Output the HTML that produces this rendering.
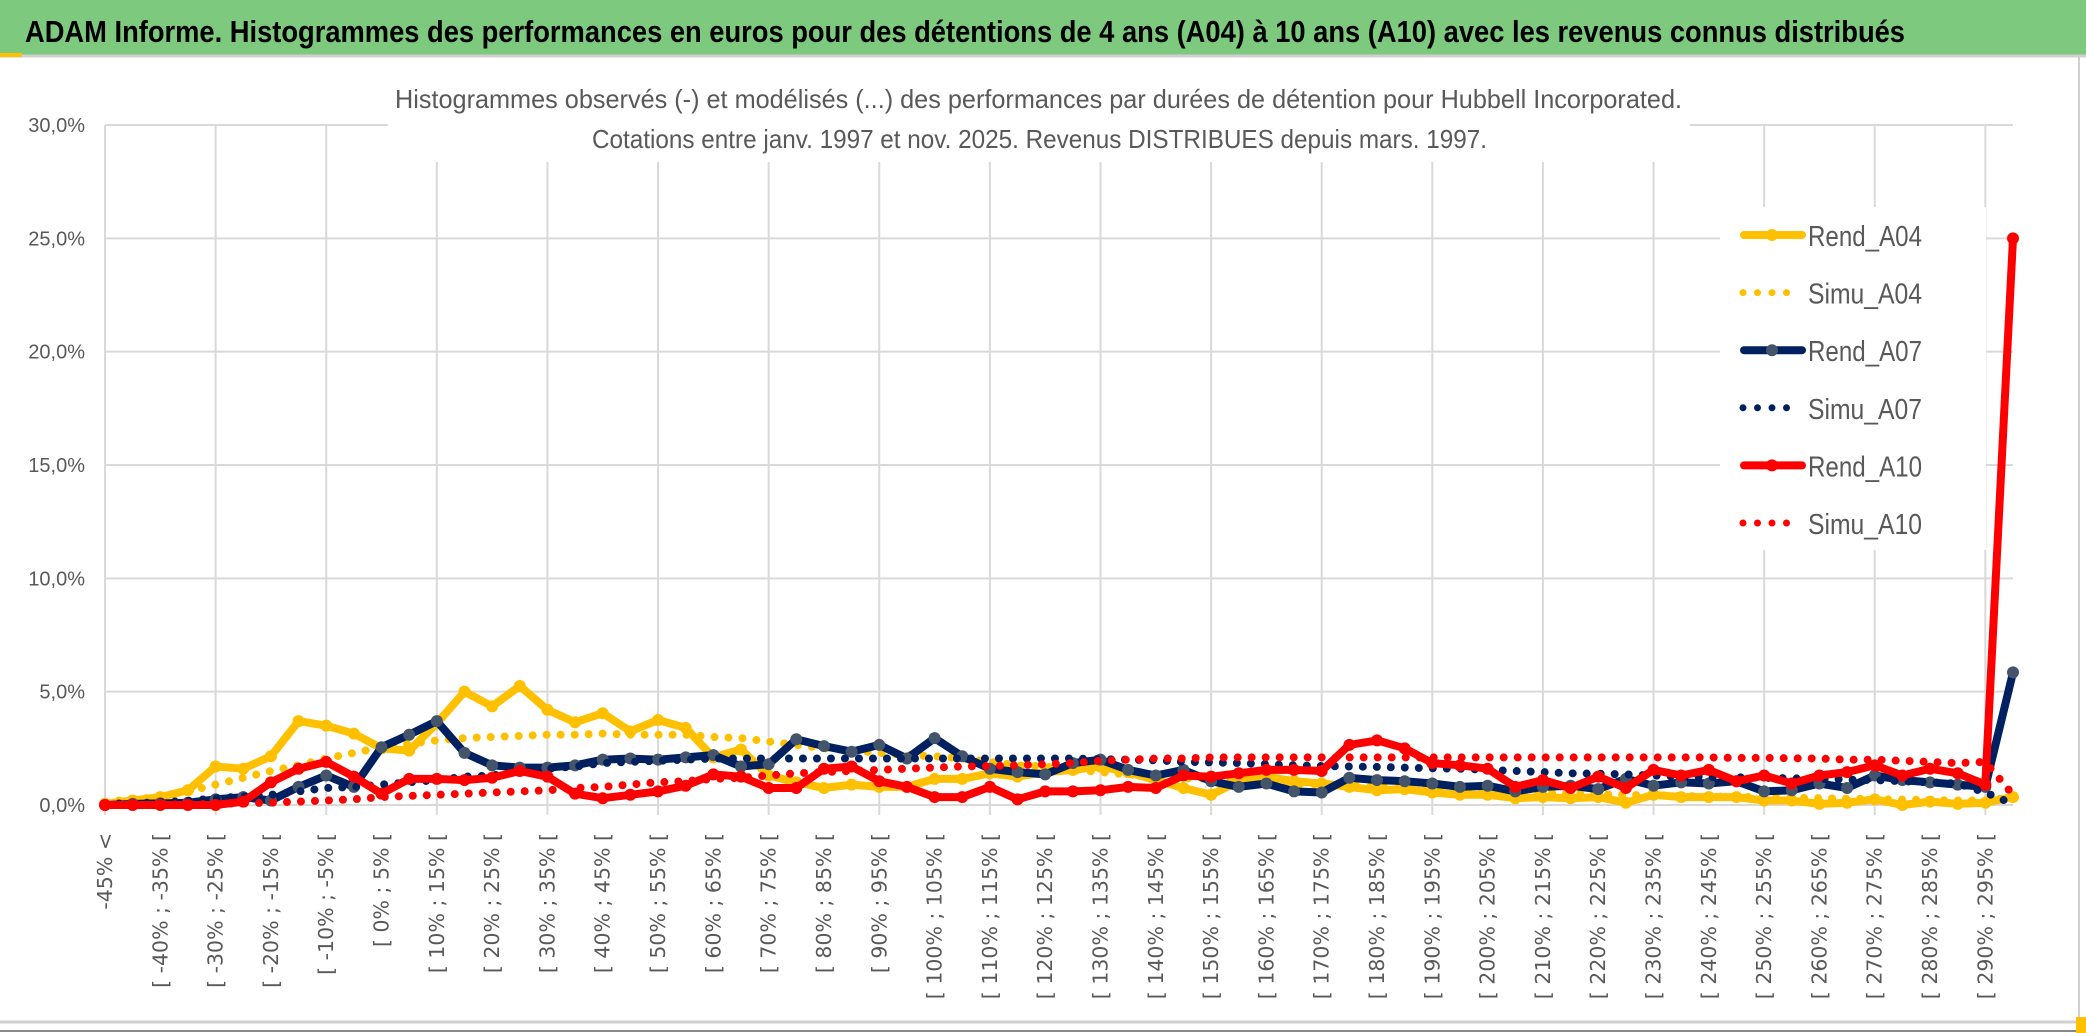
<!DOCTYPE html>
<html><head><meta charset="utf-8"><style>
html,body{margin:0;padding:0;background:#fff;}
svg{display:block;}
text{font-family:"Liberation Sans",sans-serif;}
</style></head><body>
<svg id="chart" width="2086" height="1033" xmlns="http://www.w3.org/2000/svg">
<rect x="0" y="0" width="2086" height="1033" fill="#fff"/>
<rect x="0" y="0" width="2086" height="55" fill="#7DC97E"/>
<line x1="0" y1="56" x2="2086" y2="56" stroke="#d0d0d0" stroke-width="3"/>
<rect x="0" y="53" width="22" height="4" fill="#FFC000"/>
<text x="25" y="42" font-size="31" font-weight="bold" fill="#000" textLength="1880" lengthAdjust="spacingAndGlyphs">ADAM Informe. Histogrammes des performances en euros pour des détentions de 4 ans (A04) à 10 ans (A10) avec les revenus connus distribués</text>
<line x1="2079" y1="57" x2="2079" y2="1022" stroke="#d0d0d0" stroke-width="2"/>
<line x1="0" y1="1022" x2="2080" y2="1022" stroke="#d0d0d0" stroke-width="3"/>
<line x1="0" y1="1031" x2="2086" y2="1031" stroke="#888" stroke-width="2"/>
<rect x="2076" y="1017" width="10" height="16" fill="#FFC000"/>
<g id="grid"></g>
<g id="ylabels"></g>
<g id="xlabels"></g>
<rect x="388" y="80" width="1302" height="82" fill="#fff"/>
<rect x="1720" y="207" width="266" height="343" fill="#fff"/>
<text x="395" y="108" font-size="26" fill="#595959" textLength="1287" lengthAdjust="spacingAndGlyphs">Histogrammes observés (-) et modélisés (...) des performances par durées de détention pour Hubbell Incorporated.</text>
<text x="592" y="148" font-size="26" fill="#595959" textLength="895" lengthAdjust="spacingAndGlyphs">Cotations entre janv. 1997 et nov. 2025. Revenus DISTRIBUES depuis mars. 1997.</text>
<g id="series"></g>
<g id="legend"></g>
</svg>
<script>
const rendA04=[0.05,0.2,0.35,0.65,1.7,1.6,2.15,3.7,3.5,3.15,2.5,2.4,3.6,5.0,4.35,5.25,4.2,3.65,4.05,3.25,3.75,3.4,2.1,2.45,1.3,1.0,0.75,0.9,0.8,0.8,1.15,1.15,1.4,1.25,1.45,1.55,1.7,1.45,1.1,0.75,0.45,1.05,1.25,1.05,0.95,0.8,0.65,0.7,0.55,0.45,0.45,0.3,0.35,0.3,0.35,0.1,0.45,0.35,0.35,0.35,0.2,0.2,0.05,0.1,0.25,0.0,0.15,0.05,0.1,0.35];
const simuA04=[0.15,0.25,0.35,0.6,0.9,1.2,1.5,1.75,2.05,2.3,2.55,2.7,2.85,2.95,3.0,3.05,3.1,3.1,3.15,3.1,3.1,3.1,3.0,2.95,2.8,2.65,2.5,2.4,2.3,2.2,2.15,2.05,1.9,1.75,1.7,1.55,1.45,1.35,1.3,1.2,1.15,1.05,1.0,0.95,0.9,0.85,0.8,0.75,0.7,0.65,0.6,0.55,0.55,0.5,0.48,0.45,0.43,0.4,0.38,0.36,0.34,0.32,0.3,0.28,0.26,0.24,0.22,0.2,0.2,0.35];
const rendA07=[0.0,0.05,0.07,0.1,0.25,0.35,0.2,0.8,1.3,0.8,2.55,3.1,3.7,2.3,1.75,1.65,1.65,1.75,2.0,2.05,2.0,2.1,2.2,1.7,1.8,2.9,2.6,2.35,2.65,2.05,2.95,2.15,1.6,1.45,1.35,1.85,2.0,1.55,1.3,1.55,1.05,0.8,0.95,0.6,0.55,1.2,1.1,1.05,0.95,0.8,0.85,0.6,0.8,0.85,0.7,1.15,0.85,1.0,0.95,1.05,0.6,0.65,0.95,0.75,1.3,1.1,1.0,0.9,0.8,5.85];
const simuA07=[0.05,0.08,0.12,0.18,0.3,0.38,0.45,0.6,0.75,0.8,0.9,1.0,1.1,1.25,1.3,1.45,1.6,1.7,1.85,1.9,1.95,2.0,2.05,2.05,2.05,2.05,2.05,2.05,2.05,2.05,2.05,2.05,2.05,2.05,2.05,2.05,2.02,2.0,1.97,1.9,1.88,1.85,1.8,1.75,1.72,1.7,1.68,1.65,1.62,1.6,1.55,1.5,1.45,1.4,1.38,1.35,1.3,1.25,1.23,1.22,1.2,1.18,1.15,1.12,1.1,1.05,1.0,0.95,0.55,0.05];
const rendA10=[0.0,0.0,0.0,0.0,0.0,0.15,1.0,1.6,1.9,1.25,0.5,1.15,1.15,1.1,1.2,1.5,1.25,0.5,0.3,0.45,0.6,0.85,1.35,1.25,0.75,0.75,1.6,1.7,1.05,0.8,0.35,0.35,0.8,0.25,0.6,0.6,0.65,0.8,0.75,1.3,1.25,1.4,1.55,1.55,1.5,2.65,2.85,2.5,1.85,1.75,1.6,0.8,1.1,0.75,1.25,0.75,1.55,1.3,1.55,1.05,1.3,0.95,1.3,1.45,1.75,1.3,1.6,1.4,0.9,25.0];
const simuA10=[0.0,0.0,0.02,0.03,0.05,0.08,0.1,0.15,0.2,0.25,0.35,0.4,0.45,0.5,0.55,0.6,0.65,0.75,0.8,0.9,1.0,1.05,1.15,1.2,1.3,1.4,1.45,1.5,1.55,1.6,1.65,1.7,1.72,1.75,1.8,1.85,1.95,2.0,2.05,2.05,2.1,2.1,2.1,2.1,2.1,2.1,2.1,2.1,2.1,2.1,2.1,2.1,2.1,2.1,2.1,2.1,2.1,2.1,2.1,2.08,2.08,2.06,2.05,2.0,2.0,1.95,1.9,1.85,1.9,0.45];
const yTicks=[0,5,10,15,20,25,30];
const yTickLabels=["0,0%","5,0%","10,0%","15,0%","20,0%","25,0%","30,0%"];
const categories=["-45% <"];
for(let a=-45;a<300;a+=5){categories.push("[ "+a+"% ; "+(a+5)+"% [");}

const NS="http://www.w3.org/2000/svg";
const X0=105,X1=2013,Y0=805,YTOP=125,YMAX=30;
const xs=i=>X0+(X1-X0)*i/(categories.length-1);
const ys=v=>Y0-(Y0-YTOP)*v/YMAX;
function mk(tag,attrs,parent){const e=document.createElementNS(NS,tag);for(const k in attrs)e.setAttribute(k,attrs[k]);parent.appendChild(e);return e;}

const grid=document.getElementById('grid');
yTicks.forEach((t,k)=>{
  const l=mk('line',{x1:X0,x2:X1,y1:ys(t),y2:ys(t),stroke:'#d9d9d9','stroke-width':2},grid);
  
  
  const tx=mk('text',{x:85,y:ys(t)+7,'font-size':20,fill:'#595959','text-anchor':'end'},document.getElementById('ylabels'));
  tx.textContent=yTickLabels[k];
  
  
});
for(let i=0;i<categories.length;i+=4){
  const l=mk('line',{x1:xs(i),x2:xs(i),y1:YTOP,y2:Y0+10,stroke:'#d9d9d9','stroke-width':2},grid);
  
  
}
const xl=document.getElementById('xlabels');
for(let i=0;i<categories.length;i+=2){
  const x=xs(i)+7,y=833;
  const t=mk('text',{x:x,y:y,'font-size':20.5,fill:'#595959','text-anchor':'end',transform:`rotate(-90 ${x} ${y})`,style:'font-family:"DejaVu Sans",sans-serif'},xl);
  t.textContent=categories[i];
  
  
}
const seriesDefs=[
  {name:'Rend_A04',data:rendA04,color:'#FFC000',solid:true,marker:'#FFC000'},
  {name:'Simu_A04',data:simuA04,color:'#FFC000',solid:false},
  {name:'Rend_A07',data:rendA07,color:'#002060',solid:true,marker:'#44546A'},
  {name:'Simu_A07',data:simuA07,color:'#002060',solid:false},
  {name:'Rend_A10',data:rendA10,color:'#FF0000',solid:true,marker:'#FF0000'},
  {name:'Simu_A10',data:simuA10,color:'#FF0000',solid:false}
];
const sg=document.getElementById('series');
seriesDefs.forEach(s=>{
  const g=mk('g',{},sg);
  
  
  const pts=s.data.map((v,i)=>xs(i).toFixed(1)+','+ys(v).toFixed(1)).join(' ');
  const p=mk('polyline',{points:pts,fill:'none',stroke:s.color,'stroke-width':s.solid?8:8,'stroke-linejoin':'round','stroke-linecap':'round'},g);
  if(!s.solid){p.setAttribute('stroke-dasharray','0 14');}
  
  
  if(s.solid){
    s.data.forEach((v,i)=>{
      const c=mk('circle',{cx:xs(i),cy:ys(v),r:6,fill:s.marker},g);
      
      
    });
  }
});
const lg=document.getElementById('legend');
seriesDefs.forEach((s,k)=>{
  const y=235+k*57.6;
  const g=mk('g',{},lg);
  
  
  if(s.solid){
    mk('line',{x1:1744,x2:1802,y1:y,y2:y,stroke:s.color,'stroke-width':8,'stroke-linecap':'round'},g);
    mk('circle',{cx:1772,cy:y,r:6,fill:s.marker},g);
  } else {
    mk('line',{x1:1743,x2:1800,y1:y,y2:y,stroke:s.color,'stroke-width':7,'stroke-linecap':'round','stroke-dasharray':'0 14.5'},g);
  }
  const t=mk('text',{x:1808,y:y+11,'font-size':29,fill:'#595959',textLength:114,lengthAdjust:'spacingAndGlyphs'},g);
  t.textContent=s.name;
});
</script>
</body></html>
